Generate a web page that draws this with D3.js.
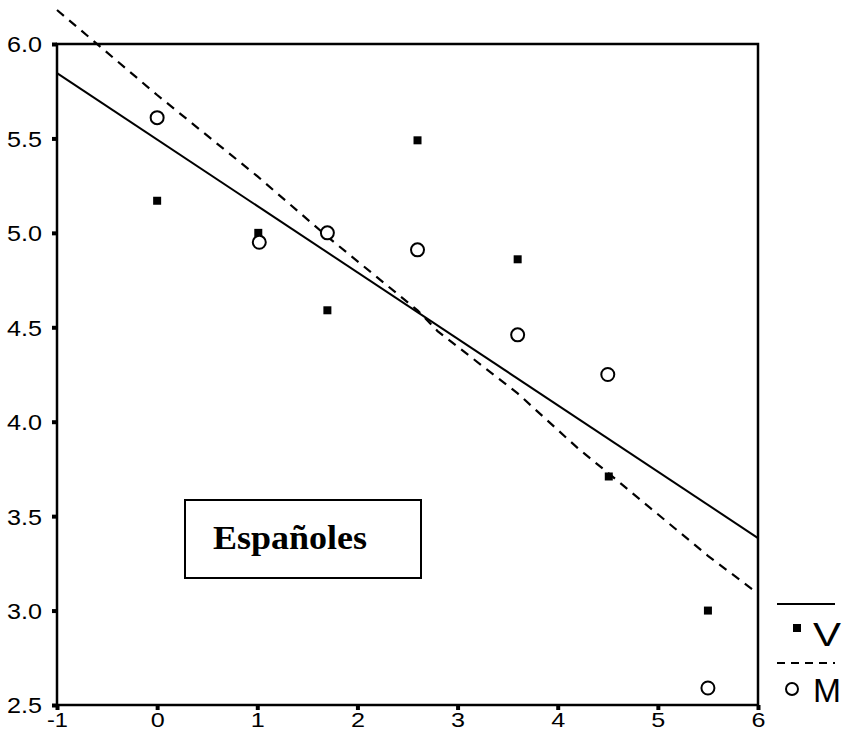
<!DOCTYPE html>
<html>
<head>
<meta charset="utf-8">
<script src="https://cdn.jsdelivr.net/npm/d3@7"></script>
<style>
  body { margin: 0; background: #fff; }
  svg { display: block; }
</style>
</head>
<body>
<div id="chart"></div>
<script>
// data
var xTicks = [-1, 0, 1, 2, 3, 4, 5, 6];
var yTicks = [2.5, 3.0, 3.5, 4.0, 4.5, 5.0, 5.5, 6.0];
var groupX = [0, 1.01, 1.7, 2.6, 3.6, 4.51, 5.5];
var valuesV = [5.17, 5.00, 4.59, 5.49, 4.86, 3.71, 3.00];
var groupXM = [0, 1.02, 1.7, 2.6, 3.6, 4.5, 5.5];
var valuesM = [5.61, 4.95, 5.00, 4.91, 4.46, 4.25, 2.59];
// fitted lines
var fitVx = [-1, 6];
var fitVy = [5.846, 3.384];
var fitMx = [-1, 0, 1, 1.7, 2.6, 2.8, 3.6, 4.2, 4.5, 5.5, 6];
var fitMy = [6.18, 5.73, 5.30, 4.98, 4.59, 4.48, 4.15, 3.86, 3.73, 3.29, 3.09];
var seriesNames = ["V", "M"];
var boxLabel = "Españoles";

var width = 844, height = 734;
var margin = {top: 44, right: 86, bottom: 29, left: 57};

var x = d3.scaleLinear().domain([-1, 6]).range([margin.left, width - margin.right]);
var y = d3.scaleLinear().domain([2.5, 6]).range([height - margin.bottom, margin.top]);

var svg = d3.select("#chart").append("svg")
    .attr("width", width)
    .attr("height", height);

var sans = "Arial, 'Liberation Sans', sans-serif";

// stretch text to a given width, like the original
function fitWidth(sel, w) {
  sel.each(function(d) {
    d3.select(this).attr("textLength", typeof w === "function" ? w(d) : w)
      .attr("lengthAdjust", "spacingAndGlyphs");
  });
}

// axes
var xAxis = svg.append("g")
    .attr("transform", "translate(0," + (height - margin.bottom) + ")")
    .call(d3.axisBottom(x).tickValues(xTicks).tickFormat(function(d) { return String(d); }).tickSize(5).tickPadding(6));
var yAxis = svg.append("g")
    .attr("transform", "translate(" + margin.left + ",0)")
    .call(d3.axisLeft(y).tickValues(yTicks).tickFormat(d3.format(".1f")).tickSize(5).tickPadding(10));

[xAxis, yAxis].forEach(function(ax) {
  ax.select(".domain").remove();
  ax.selectAll(".tick line").attr("stroke", "#000").attr("stroke-width", 4);
  ax.selectAll(".tick text")
    .attr("fill", "#000")
    .style("font-family", sans)
    .style("font-size", "22px");
});
xAxis.selectAll(".tick text").attr("dy", "0.71em").attr("y", 7).style("font-size", "21px");
yAxis.selectAll(".tick text").attr("dy", "0.36em");
fitWidth(yAxis.selectAll(".tick text"), 35);
fitWidth(xAxis.selectAll(".tick text"), function(d) { return d < 0 ? 21 : 14; });

// frame
svg.append("rect")
    .attr("x", x(-1)).attr("y", y(6))
    .attr("width", x(6) - x(-1)).attr("height", y(2.5) - y(6))
    .attr("fill", "none").attr("stroke", "#000").attr("stroke-width", 2.5);

// fit lines
var line = d3.line().x(function(d) { return x(d[0]); }).y(function(d) { return y(d[1]); });
svg.append("path")
    .datum(d3.zip(fitVx, fitVy))
    .attr("d", line)
    .attr("fill", "none").attr("stroke", "#000").attr("stroke-width", 2);
svg.append("path")
    .datum(d3.zip(fitMx, fitMy))
    .attr("d", line)
    .attr("fill", "none").attr("stroke", "#000").attr("stroke-width", 2.2)
    .attr("stroke-dasharray", "9,7");

// points
svg.selectAll(".ptV")
    .data(d3.zip(groupX, valuesV))
  .enter().append("rect")
    .attr("class", "ptV")
    .attr("x", function(d) { return x(d[0]) - 4; })
    .attr("y", function(d) { return y(d[1]) - 4; })
    .attr("width", 8).attr("height", 8)
    .attr("fill", "#000");
svg.selectAll(".ptM")
    .data(d3.zip(groupXM, valuesM))
  .enter().append("circle")
    .attr("class", "ptM")
    .attr("cx", function(d) { return x(d[0]); })
    .attr("cy", function(d) { return y(d[1]); })
    .attr("r", 6.5)
    .attr("fill", "#fff").attr("stroke", "#000").attr("stroke-width", 2);

// label box
svg.append("rect")
    .attr("x", 185).attr("y", 500).attr("width", 236).attr("height", 78)
    .attr("fill", "#fff").attr("stroke", "#000").attr("stroke-width", 2);
svg.append("text")
    .attr("x", 213).attr("y", 549)
    .attr("fill", "#000")
    .attr("textLength", 154).attr("lengthAdjust", "spacingAndGlyphs")
    .style("font-family", "'Liberation Serif', 'Times New Roman', serif")
    .style("font-weight", "bold")
    .style("font-size", "33px")
    .text(boxLabel);

// legend
var lg = svg.append("g");
lg.append("line").attr("x1", 777).attr("x2", 835).attr("y1", 604).attr("y2", 604)
    .attr("stroke", "#000").attr("stroke-width", 2);
lg.append("rect").attr("x", 793).attr("y", 624).attr("width", 8).attr("height", 8).attr("fill", "#000");
lg.append("line").attr("x1", 777).attr("x2", 835).attr("y1", 663).attr("y2", 663)
    .attr("stroke", "#000").attr("stroke-width", 2).attr("stroke-dasharray", "8,6");
lg.append("circle").attr("cx", 792).attr("cy", 689).attr("r", 6)
    .attr("fill", "#fff").attr("stroke", "#000").attr("stroke-width", 2);
var lt = lg.selectAll(".lt")
    .data(seriesNames)
  .enter().append("text")
    .attr("class", "lt")
    .attr("x", 813)
    .attr("y", function(d, i) { return i === 0 ? 646 : 702; })
    .attr("fill", "#000")
    .style("font-family", sans)
    .style("font-size", "33px")
    .text(function(d) { return d; });
fitWidth(lt, 28);
</script>
</body>
</html>
